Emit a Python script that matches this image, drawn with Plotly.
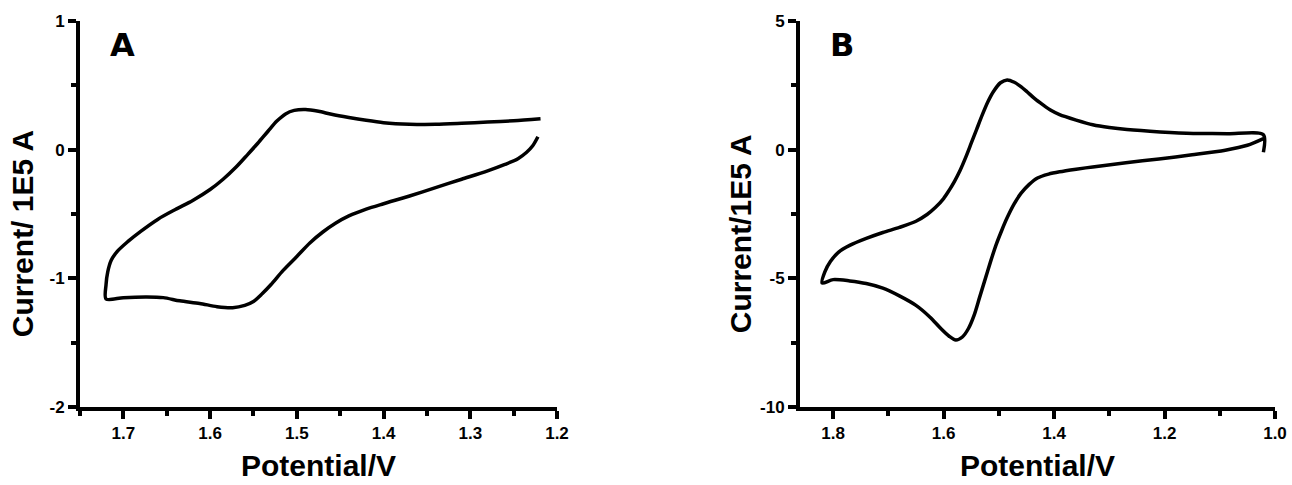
import plotly.graph_objects as go
from plotly.subplots import make_subplots

# ---- Panel A data (Potential / V, Current / 1E5 A) ----
a_potential = [1.219, 1.250, 1.280, 1.310, 1.340, 1.370, 1.400, 1.420, 1.440, 1.460,
               1.475, 1.490, 1.503, 1.513, 1.523, 1.533, 1.545, 1.557, 1.570, 1.585,
               1.600, 1.620, 1.640, 1.660, 1.680, 1.695, 1.707, 1.714, 1.718, 1.720,
               1.720, 1.700, 1.673, 1.654, 1.635, 1.612, 1.592, 1.574, 1.560, 1.550,
               1.540, 1.530, 1.516, 1.500, 1.485, 1.470, 1.455, 1.440, 1.420, 1.400,
               1.370, 1.340, 1.310, 1.280, 1.260, 1.245, 1.235, 1.228, 1.222]
a_current = [0.240, 0.225, 0.215, 0.205, 0.197, 0.198, 0.210, 0.228, 0.250, 0.275,
             0.298, 0.312, 0.305, 0.278, 0.222, 0.145, 0.050, -0.040, -0.135, -0.230,
             -0.310, -0.395, -0.465, -0.540, -0.635, -0.715, -0.790, -0.860, -0.950, -1.050,
             -1.160, -1.150, -1.145, -1.150, -1.175, -1.195, -1.220, -1.228, -1.210, -1.180,
             -1.120, -1.050, -0.940, -0.830, -0.725, -0.640, -0.570, -0.515, -0.462, -0.420,
             -0.360, -0.295, -0.230, -0.165, -0.115, -0.070, -0.020, 0.030, 0.100]

# ---- Panel B data ----
b_potential = [1.021, 1.021, 1.086, 1.148, 1.208, 1.268, 1.300, 1.330, 1.360, 1.390,
               1.405, 1.420, 1.435, 1.449, 1.460, 1.472, 1.485, 1.497, 1.510, 1.520,
               1.530, 1.540, 1.550, 1.560, 1.570, 1.580, 1.590, 1.600, 1.615, 1.630,
               1.650, 1.680, 1.710, 1.740, 1.770, 1.790, 1.805, 1.815, 1.820, 1.800,
               1.770, 1.740, 1.710, 1.680, 1.650, 1.625, 1.605, 1.590, 1.578, 1.566,
               1.555, 1.545, 1.535, 1.525, 1.515, 1.505, 1.495, 1.485, 1.472, 1.460,
               1.445, 1.430, 1.410, 1.390, 1.360, 1.330, 1.270, 1.210, 1.150, 1.090,
               1.050, 1.021]
b_current = [-0.10, 0.58, 0.62, 0.63, 0.69, 0.78, 0.86, 0.97, 1.15, 1.36,
             1.52, 1.74, 1.98, 2.25, 2.45, 2.62, 2.71, 2.60, 2.25, 1.85,
             1.35, 0.80, 0.25, -0.30, -0.80, -1.22, -1.58, -1.90, -2.25, -2.52,
             -2.78, -3.02, -3.22, -3.45, -3.72, -3.98, -4.35, -4.75, -5.18, -5.05,
             -5.10, -5.20, -5.38, -5.68, -6.05, -6.50, -6.95, -7.25, -7.40, -7.28,
             -6.95, -6.45, -5.75, -5.05, -4.35, -3.70, -3.15, -2.65, -2.10, -1.70,
             -1.35, -1.10, -0.95, -0.86, -0.76, -0.67, -0.51, -0.36, -0.20, -0.02,
             0.17, 0.43]

# ---- Tick settings ----
a_xticks = [1.7, 1.6, 1.5, 1.4, 1.3, 1.2]
a_xticklabels = ["1.7", "1.6", "1.5", "1.4", "1.3", "1.2"]
a_yticks = [-2, -1, 0, 1]
a_yticklabels = ["-2", "-1", "0", "1"]
b_xticks = [1.8, 1.6, 1.4, 1.2, 1.0]
b_xticklabels = ["1.8", "1.6", "1.4", "1.2", "1.0"]
b_yticks = [-10, -5, 0, 5]
b_yticklabels = ["-10", "-5", "0", "5"]

x_title = "Potential/V"
a_y_title = "Current/ 1E5 A"
b_y_title = "Current/1E5 A"

W, H = 1292, 485
ML, MR, MT, MB = 80, 17, 20.5, 78
PW = W - ML - MR
PH = H - MT - MB

fig = make_subplots(rows=1, cols=2)
line = dict(color="black", width=3.5, shape="spline", smoothing=0.8)
fig.add_trace(go.Scatter(x=a_potential, y=a_current, mode="lines", line=line,
                         showlegend=False), row=1, col=1)
fig.add_trace(go.Scatter(x=b_potential, y=b_current, mode="lines", line=line,
                         showlegend=False), row=1, col=2)

tickfont = dict(family="Liberation Sans, Arial, sans-serif", size=17, color="black", weight="bold")
titlefont = dict(family="Liberation Sans, Arial, sans-serif",
                 size=30, color="black", weight="bold")


def bold(labels):
    return ["<b>%s</b>" % s for s in labels]


common = dict(showline=True, linewidth=4, linecolor="black", mirror=False,
              showgrid=False, zeroline=False, ticks="outside", ticklen=8,
              tickwidth=4, tickcolor="black", tickfont=tickfont)


def minor(t0, dt):
    return dict(tick0=t0, dtick=dt, ticks="outside", ticklen=5, tickwidth=4,
                tickcolor="black")


def px_x(px):
    return (px - ML) / PW


def px_y(py):
    return (H - MB - py) / PH


fig.update_layout(
    xaxis=dict(domain=[0, 477 / PW], range=[1.75, 1.2], tickvals=a_xticks,
               ticktext=bold(a_xticklabels), minor=minor(1.2, 0.05),
               title=dict(text=x_title, font=titlefont, standoff=14), **common),
    yaxis=dict(range=[-2, 1], tickvals=a_yticks, ticktext=bold(a_yticklabels),
               minor=minor(0, 0.5), **common),
    xaxis2=dict(domain=[720 / PW, 1.0], range=[1.86, 1.0], tickvals=b_xticks,
                ticktext=bold(b_xticklabels), minor=minor(1.0, 0.1),
                title=dict(text=x_title, font=titlefont, standoff=14), **common),
    yaxis2=dict(range=[-10, 5], tickvals=b_yticks, ticktext=bold(b_yticklabels),
                minor=minor(0, 2.5), **common),
    width=W, height=H,
    margin=dict(l=ML, r=MR, t=MT, b=MB, autoexpand=False),
    paper_bgcolor="white", plot_bgcolor="white",
    annotations=[
        dict(text=a_y_title, xref="paper", yref="paper", x=px_x(22), y=px_y(234),
             xanchor="center", yanchor="middle", textangle=-90, showarrow=False,
             font=titlefont),
        dict(text=b_y_title, xref="paper", yref="paper", x=px_x(740), y=px_y(234),
             xanchor="center", yanchor="middle", textangle=-90, showarrow=False,
             font=titlefont),
        dict(text="A", xref="paper", yref="paper", x=px_x(108), y=px_y(24),
             xanchor="left", yanchor="top", showarrow=False,
             font=dict(family="DejaVu Sans, sans-serif", size=32, color="black", weight="bold")),
        dict(text="B", xref="paper", yref="paper", x=px_x(828), y=px_y(24),
             xanchor="left", yanchor="top", showarrow=False,
             font=dict(family="DejaVu Sans, sans-serif", size=32, color="black", weight="bold")),
    ],
)

fig.write_html("out.html")
